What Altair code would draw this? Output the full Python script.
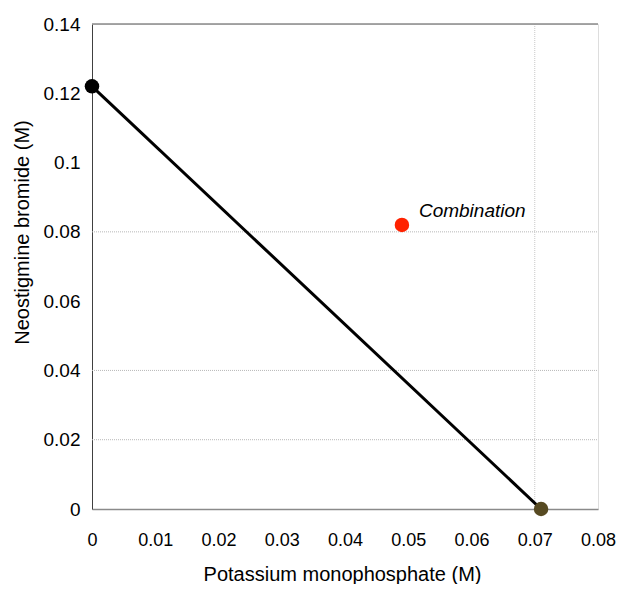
import altair as alt
import pandas as pd

# Data
line_x = [0.0, 0.071]
line_y = [0.122, 0.0]
end_labels = ["Neostigmine bromide alone", "Potassium monophosphate alone"]
end_colors = ["#000000", "#574a22"]
combo_x = [0.049]
combo_y = [0.082]
combo_label = ["Combination"]
hgrid = [0.02, 0.04, 0.08]
vgrid = [0.07]
x_ticks = [0, 0.01, 0.02, 0.03, 0.04, 0.05, 0.06, 0.07, 0.08]
y_ticks = [0, 0.02, 0.04, 0.06, 0.08, 0.1, 0.12, 0.14]

W, H = 506, 485
FONT = "Liberation Sans"

line_df = pd.DataFrame({"x": line_x, "y": line_y, "name": end_labels, "color": end_colors})
combo_df = pd.DataFrame({"x": combo_x, "y": combo_y, "label": combo_label})
hgrid_df = pd.DataFrame({"y": hgrid})
vgrid_df = pd.DataFrame({"x": vgrid})

xs = alt.Scale(domain=[0, 0.08], nice=False, zero=True)
ys = alt.Scale(domain=[0, 0.14], nice=False, zero=True)

x_axis = alt.Axis(
    values=x_ticks, labelExpr="format(datum.value, '~g')", grid=False, ticks=False,
    labelFlush=False, labelOverlap=False, labelBound=False,
    domainColor="#8a8a8a", domainWidth=1.5, labelFontSize=18, labelPadding=22,
    labelColor="#000", labelFont=FONT, title="Potassium monophosphate (M)",
    titleFontSize=20, titleFont=FONT, titleFontWeight="normal", titleColor="#000",
    titleX=250, titleY=71, titleBaseline="alphabetic", titleAlign="center",
)
y_axis = alt.Axis(
    values=y_ticks, labelExpr="format(datum.value, '~g')", grid=False, ticks=False,
    labelFlush=False,
    domainColor="#404040", domainWidth=1, labelFontSize=19, labelPadding=12,
    labelColor="#000", labelFont=FONT, title="Neostigmine bromide (M)",
    titleFontSize=20, titleFont=FONT, titleFontWeight="normal", titleColor="#000",
    titleX=-70, titleY=208, titleAngle=-90, titleBaseline="middle", titleAlign="center",
)

hg = alt.Chart(hgrid_df).mark_rule(color="#b8b8b8", strokeDash=[1, 1], strokeWidth=1).encode(
    y=alt.Y("y:Q", scale=ys, axis=y_axis), x=alt.value(0), x2=alt.value(W)
)
vg = alt.Chart(vgrid_df).mark_rule(color="#c8c8c8", strokeDash=[1, 1], strokeWidth=1).encode(
    x=alt.X("x:Q", scale=xs, axis=x_axis), y=alt.value(0), y2=alt.value(H)
)
top = alt.Chart(vgrid_df).mark_rule(color="#8a8a8a", strokeWidth=1.5).encode(
    x=alt.value(0), x2=alt.value(W), y=alt.value(0)
)
ln = alt.Chart(line_df).mark_line(color="#000", strokeWidth=3).encode(
    x=alt.X("x:Q", scale=xs), y=alt.Y("y:Q", scale=ys)
)
ends = alt.Chart(line_df).mark_circle(size=210, opacity=1).encode(
    x=alt.X("x:Q", scale=xs), y=alt.Y("y:Q", scale=ys),
    color=alt.Color("color:N", scale=None),
)
combo = alt.Chart(combo_df).mark_circle(size=210, opacity=1, color="#ff2200").encode(
    x=alt.X("x:Q", scale=xs), y=alt.Y("y:Q", scale=ys)
)
combo_txt = alt.Chart(combo_df).mark_text(
    align="left", baseline="middle", dx=17, dy=-14, fontSize=19, fontStyle="italic",
    font=FONT, color="#000"
).encode(x=alt.X("x:Q", scale=xs), y=alt.Y("y:Q", scale=ys), text="label:N")

chart = alt.layer(hg, vg, top, ln, ends, combo, combo_txt).properties(
    width=W, height=H,
    autosize=alt.AutoSizeParams(type="none"),
    padding={"left": 84, "top": 16, "right": 18, "bottom": 75},
).configure_view(stroke=None).configure(background="white")

chart.save("out.html", embed_options={"renderer": "svg", "actions": False})
